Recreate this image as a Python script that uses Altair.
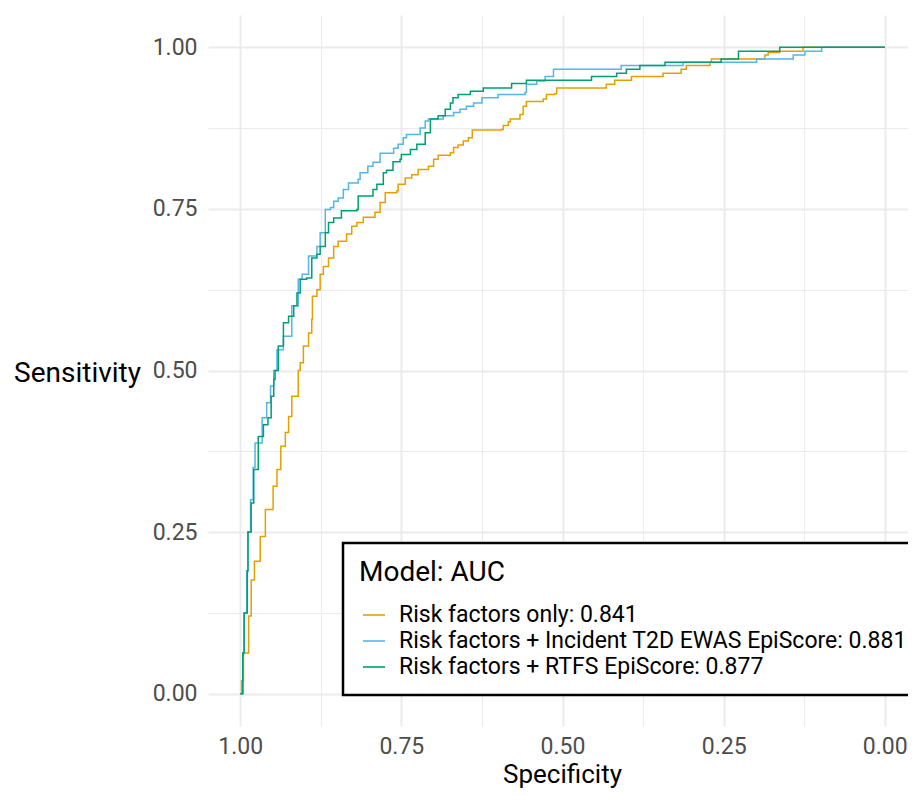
import altair as alt
import pandas as pd

# ---- data ----
series_names = [
    "Risk factors only: 0.841",
    "Risk factors + Incident T2D EWAS EpiScore: 0.881",
    "Risk factors + RTFS EpiScore: 0.877",
]
series_colors = ["#E69F00", "#56B4E9", "#009E73"]

rf_spec = [1.000, 0.998, 0.995, 0.987, 0.983, 0.978, 0.969, 0.961, 0.949, 0.943, 0.937, 0.930,
           0.925, 0.920, 0.910, 0.907, 0.902, 0.894, 0.889, 0.888, 0.881, 0.876, 0.871, 0.863,
           0.855, 0.848, 0.835, 0.827, 0.819, 0.809, 0.791, 0.783, 0.775, 0.757, 0.755, 0.744,
           0.734, 0.724, 0.708, 0.700, 0.693, 0.674, 0.669, 0.662, 0.654, 0.646, 0.640, 0.595,
           0.592, 0.584, 0.581, 0.566, 0.561, 0.556, 0.530, 0.525, 0.512, 0.509, 0.434, 0.432,
           0.419, 0.393, 0.344, 0.316, 0.308, 0.271, 0.269, 0.186, 0.181, 0.163, 0.127, 0.000]
rf_sens = [0.000, 0.020, 0.063, 0.120, 0.176, 0.205, 0.243, 0.285, 0.321, 0.347, 0.383, 0.404,
           0.429, 0.460, 0.500, 0.512, 0.538, 0.558, 0.579, 0.615, 0.625, 0.649, 0.661, 0.674,
           0.692, 0.700, 0.711, 0.723, 0.729, 0.737, 0.745, 0.760, 0.775, 0.778, 0.788, 0.798,
           0.803, 0.811, 0.816, 0.827, 0.833, 0.837, 0.845, 0.849, 0.855, 0.860, 0.872, 0.873,
           0.879, 0.885, 0.889, 0.896, 0.909, 0.916, 0.920, 0.927, 0.928, 0.937, 0.937, 0.943,
           0.949, 0.955, 0.960, 0.966, 0.972, 0.977, 0.982, 0.988, 0.992, 0.994, 1.000, 1.000]

ewas_spec = [1.000, 0.996, 0.994, 0.990, 0.988, 0.984, 0.980, 0.977, 0.966, 0.959, 0.953, 0.948,
             0.943, 0.933, 0.920, 0.910, 0.904, 0.894, 0.881, 0.876, 0.868, 0.860, 0.855, 0.848,
             0.840, 0.832, 0.817, 0.814, 0.802, 0.794, 0.783, 0.762, 0.755, 0.747, 0.742, 0.721,
             0.713, 0.708, 0.685, 0.669, 0.659, 0.649, 0.638, 0.625, 0.600, 0.558, 0.556, 0.540,
             0.527, 0.514, 0.409, 0.313, 0.199, 0.142, 0.124, 0.098, 0.000]
ewas_sens = [0.000, 0.063, 0.125, 0.190, 0.250, 0.300, 0.350, 0.388, 0.427, 0.450, 0.476, 0.500,
             0.532, 0.553, 0.600, 0.641, 0.649, 0.677, 0.692, 0.713, 0.749, 0.752, 0.762, 0.767,
             0.780, 0.790, 0.796, 0.806, 0.816, 0.822, 0.836, 0.844, 0.850, 0.860, 0.865, 0.875,
             0.886, 0.889, 0.894, 0.899, 0.904, 0.909, 0.914, 0.922, 0.927, 0.930, 0.943, 0.948,
             0.955, 0.966, 0.972, 0.977, 0.982, 0.988, 0.994, 1.000, 1.000]

rtfs_spec = [1.000, 0.996, 0.994, 0.989, 0.988, 0.983, 0.979, 0.972, 0.964, 0.957, 0.952, 0.948,
             0.946, 0.941, 0.933, 0.925, 0.917, 0.912, 0.907, 0.897, 0.889, 0.881, 0.876, 0.868,
             0.863, 0.855, 0.843, 0.819, 0.817, 0.794, 0.788, 0.778, 0.773, 0.763, 0.752, 0.750,
             0.736, 0.726, 0.713, 0.705, 0.693, 0.682, 0.674, 0.670, 0.662, 0.643, 0.623, 0.579,
             0.556, 0.455, 0.416, 0.401, 0.380, 0.341, 0.254, 0.227, 0.163, 0.000]
rtfs_sens = [0.000, 0.063, 0.125, 0.190, 0.250, 0.295, 0.347, 0.398, 0.416, 0.427, 0.460, 0.486,
             0.500, 0.538, 0.574, 0.584, 0.600, 0.620, 0.641, 0.643, 0.674, 0.680, 0.692, 0.713,
             0.729, 0.736, 0.747, 0.749, 0.770, 0.780, 0.788, 0.806, 0.810, 0.823, 0.827, 0.834,
             0.842, 0.850, 0.868, 0.889, 0.894, 0.904, 0.914, 0.922, 0.927, 0.932, 0.937, 0.944,
             0.949, 0.955, 0.960, 0.966, 0.972, 0.977, 0.982, 0.994, 1.000, 1.000]

grid_values = [0.0, 0.125, 0.25, 0.375, 0.5, 0.625, 0.75, 0.875, 1.0]

# ---- build table ----
rows = []
for name, spec, sens in zip(series_names,
                            [rf_spec, ewas_spec, rtfs_spec],
                            [rf_sens, ewas_sens, rtfs_sens]):
    for i, (s, v) in enumerate(zip(spec, sens)):
        rows.append({"model": name, "specificity": s, "sensitivity": v, "step": i})
df = pd.DataFrame(rows)

major_test = "abs(datum.value * 4 - round(datum.value * 4)) < 0.001"
label_expr = f"{major_test} ? format(datum.value, '.2f') : ''"
grid_width = {"condition": {"test": major_test, "value": 2}, "value": 1}

common_axis = dict(
    values=grid_values,
    labelExpr=label_expr,
    labelFontSize=23,
    labelColor="#4D4D4D",
    labelFlush=False,
    labelOverlap=False,
    ticks=False,
    domain=False,
    grid=True,
    gridColor="#EBEBEB",
    gridWidth=grid_width,
    titleFontWeight="normal",
    titleColor="black",
)

chart = (
    alt.Chart(df)
    .mark_line(interpolate="step-after", strokeWidth=1.5)
    .encode(
        x=alt.X(
            "specificity:Q",
            scale=alt.Scale(domain=[-0.036, 1.05], reverse=True, nice=False, zero=False),
            axis=alt.Axis(title="Specificity", titleX=354, titleY=56, titleFontSize=26,
                          labelPadding=9,
                          titleAlign="center", titleBaseline="alphabetic", **common_axis),
        ),
        y=alt.Y(
            "sensitivity:Q",
            scale=alt.Scale(domain=[-0.05, 1.05], nice=False, zero=False),
            axis=alt.Axis(title="Sensitivity", titleAngle=0, titleX=-131, titleY=358,
                          titleFontSize=28, labelPadding=11,
                          titleAlign="center", titleBaseline="middle", **common_axis),
        ),
        color=alt.Color(
            "model:N",
            scale=alt.Scale(domain=series_names, range=series_colors),
            legend=alt.Legend(
                title="Model: AUC",
                orient="none",
                legendX=135,
                legendY=528,
                symbolType="stroke",
                symbolSize=484,
                symbolStrokeWidth=1.6,
                labelFontSize=23,
                labelColor="black",
                labelLimit=800,
                labelOffset=13,
                symbolOffset=3,
                titleFontSize=28,
                titleFontWeight="normal",
                titleColor="black",
                titlePadding=16,
                rowPadding=2,
                padding=16,
                fillColor="white",
                strokeColor="black",
            ),
        ),
        order=alt.Order("step:Q"),
    )
    .properties(
        width=700,
        height=711,
        autosize=alt.AutoSizeParams(type="none"),
        padding={"left": 200, "top": 7, "right": 0, "bottom": 62},
    )
    .configure(font="Roboto")
    .configure_view(stroke="transparent")
    .configure_legend(strokeWidth=2.5)
)

chart.save("out.html", embed_options={"renderer": "svg", "actions": False})
